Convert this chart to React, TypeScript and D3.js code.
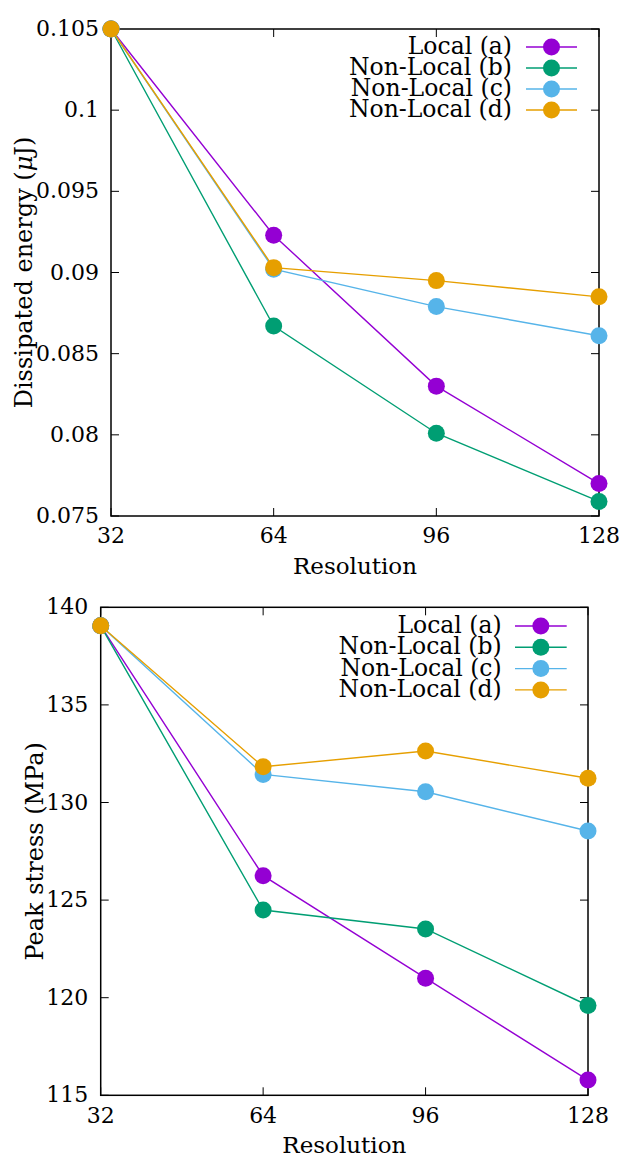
import React from 'react';
import * as d3 from 'd3';

const resolutions = [32, 64, 96, 128];
const resolutionLabels = ['32', '64', '96', '128'];
const seriesNames = ['Local (a)', 'Non-Local (b)', 'Non-Local (c)', 'Non-Local (d)'];
const seriesColors = ['#9400d3', '#009e73', '#56b4e9', '#e69f00'];

const energyLocalA = [0.105, 0.0923, 0.083, 0.0770];
const energyNonLocalB = [0.105, 0.0867, 0.0801, 0.0759];
const energyNonLocalC = [0.105, 0.0902, 0.0879, 0.0861];
const energyNonLocalD = [0.105, 0.0903, 0.0895, 0.0885];
const energyTicks = [0.075, 0.08, 0.085, 0.09, 0.095, 0.1, 0.105];
const energyTickLabels = ['0.075', '0.08', '0.085', '0.09', '0.095', '0.1', '0.105'];

const stressLocalA = [139.05, 126.25, 121.0, 115.78];
const stressNonLocalB = [139.05, 124.49, 123.52, 119.6];
const stressNonLocalC = [139.05, 131.44, 130.55, 128.54];
const stressNonLocalD = [139.05, 131.83, 132.64, 131.24];
const stressTicks = [115, 120, 125, 130, 135, 140];
const stressTickLabels = ['115', '120', '125', '130', '135', '140'];

const FONT = 'DejaVu Serif';
const tickStyle: React.CSSProperties = { fontFamily: FONT, fontSize: 22 };
const titleStyle: React.CSSProperties = { fontFamily: FONT, fontSize: 23 };
const yTitleStyle: React.CSSProperties = { fontFamily: FONT, fontSize: 24 };
const legendStyle: React.CSSProperties = { fontFamily: FONT, fontSize: 23.5 };

type PanelProps = {
  left: number; right: number; top: number; bottom: number;
  series: number[][];
  yDomain: [number, number];
  yTicks: number[]; yTickLabels: string[];
  yTitle: React.ReactNode; yTitleX: number;
  xTickBaseline: number; xTitleBaseline: number; yLabelRight: number;
  legendTextRight: number; legendX1: number; legendX2: number; legendY0: number; legendStep: number;
};

function Panel(p: PanelProps) {
  const x = d3.scaleLinear().domain([32, 128]).range([p.left, p.right]);
  const y = d3.scaleLinear().domain(p.yDomain).range([p.bottom, p.top]);
  const line = d3.line<number>().x((_, i) => x(resolutions[i])).y(d => y(d));
  const tl = 8;
  const r = 8.5;
  const cy = (p.top + p.bottom) / 2;
  return (
    <g>
      {resolutions.map((v, i) => (
        <g key={'xt' + i}>
          <line x1={x(v)} x2={x(v)} y1={p.bottom} y2={p.bottom - tl} stroke="#000" strokeWidth={1} />
          <line x1={x(v)} x2={x(v)} y1={p.top} y2={p.top + tl} stroke="#000" strokeWidth={1} />
          <text x={x(v)} y={p.xTickBaseline} textAnchor="middle" style={tickStyle}>{resolutionLabels[i]}</text>
        </g>
      ))}
      {p.yTicks.map((v, i) => (
        <g key={'yt' + i}>
          <line x1={p.left} x2={p.left + tl} y1={y(v)} y2={y(v)} stroke="#000" strokeWidth={1} />
          <line x1={p.right} x2={p.right - tl} y1={y(v)} y2={y(v)} stroke="#000" strokeWidth={1} />
          <text x={p.yLabelRight} y={y(v) + 7} textAnchor="end" style={tickStyle}>{p.yTickLabels[i]}</text>
        </g>
      ))}
      <rect x={p.left} y={p.top} width={p.right - p.left} height={p.bottom - p.top} fill="none" stroke="#000" strokeWidth={1.5} />
      <text x={(p.left + p.right) / 2} y={p.xTitleBaseline} textAnchor="middle" style={titleStyle}>Resolution</text>
      <text transform={`translate(${p.yTitleX},${cy}) rotate(-90)`} textAnchor="middle" style={yTitleStyle}>{p.yTitle}</text>
      {p.series.map((s, k) => (
        <g key={'s' + k}>
          <path d={line(s) || ''} fill="none" stroke={seriesColors[k]} strokeWidth={1.4} />
          {s.map((v, i) => (
            <circle key={i} cx={x(resolutions[i])} cy={y(v)} r={r} fill={seriesColors[k]} />
          ))}
          <text x={p.legendTextRight} y={p.legendY0 + k * p.legendStep + 7} textAnchor="end" style={legendStyle}>{seriesNames[k]}</text>
          <line x1={p.legendX1} x2={p.legendX2} y1={p.legendY0 + k * p.legendStep} y2={p.legendY0 + k * p.legendStep} stroke={seriesColors[k]} strokeWidth={1.4} />
          <circle cx={(p.legendX1 + p.legendX2) / 2} cy={p.legendY0 + k * p.legendStep} r={r} fill={seriesColors[k]} />
        </g>
      ))}
    </g>
  );
}

export default function App() {
  return (
    <svg width={619} height={1158} style={{ position: 'absolute', left: 0, top: 0, background: '#fff' }}>
      <rect width={619} height={1158} fill="#fff" />
      <Panel
        left={111} right={599} top={29} bottom={516}
        series={[energyLocalA, energyNonLocalB, energyNonLocalC, energyNonLocalD]}
        yDomain={[0.075, 0.105]}
        yTicks={energyTicks} yTickLabels={energyTickLabels}
        yTitle={<>Dissipated energy (<tspan style={{ fontStyle: 'italic' }}>μ</tspan>J)</>}
        yTitleX={32}
        xTickBaseline={543} xTitleBaseline={573.5} yLabelRight={99}
        legendTextRight={512} legendX1={526} legendX2={577} legendY0={47} legendStep={21}
      />
      <Panel
        left={100.7} right={588} top={607.3} bottom={1095.3}
        series={[stressLocalA, stressNonLocalB, stressNonLocalC, stressNonLocalD]}
        yDomain={[115, 140]}
        yTicks={stressTicks} yTickLabels={stressTickLabels}
        yTitle={'Peak stress (MPa)'}
        yTitleX={43}
        xTickBaseline={1122.7} xTitleBaseline={1152.7} yLabelRight={88.3}
        legendTextRight={501.7} legendX1={515} legendX2={566.7} legendY0={626} legendStep={21.3}
      />
    </svg>
  );
}
